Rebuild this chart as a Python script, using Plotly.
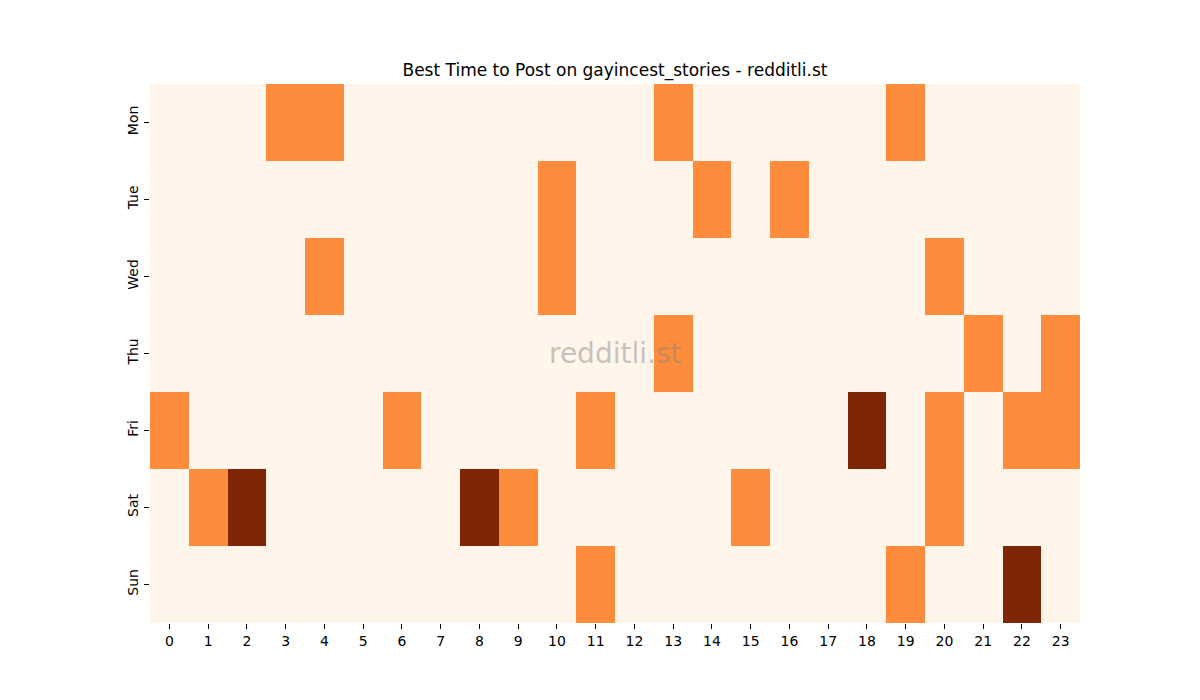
import plotly.graph_objects as go

hours = list(range(24))
days = ["Mon", "Tue", "Wed", "Thu", "Fri", "Sat", "Sun"]

# 0 = quiet, 1 = good, 2 = best
mon = [0, 0, 0, 1, 1, 0, 0, 0, 0, 0, 0, 0, 0, 1, 0, 0, 0, 0, 0, 1, 0, 0, 0, 0]
tue = [0, 0, 0, 0, 0, 0, 0, 0, 0, 0, 1, 0, 0, 0, 1, 0, 1, 0, 0, 0, 0, 0, 0, 0]
wed = [0, 0, 0, 0, 1, 0, 0, 0, 0, 0, 1, 0, 0, 0, 0, 0, 0, 0, 0, 0, 1, 0, 0, 0]
thu = [0, 0, 0, 0, 0, 0, 0, 0, 0, 0, 0, 0, 0, 1, 0, 0, 0, 0, 0, 0, 0, 1, 0, 1]
fri = [1, 0, 0, 0, 0, 0, 1, 0, 0, 0, 0, 1, 0, 0, 0, 0, 0, 0, 2, 0, 1, 0, 1, 1]
sat = [0, 1, 2, 0, 0, 0, 0, 0, 2, 1, 0, 0, 0, 0, 0, 1, 0, 0, 0, 0, 1, 0, 0, 0]
sun = [0, 0, 0, 0, 0, 0, 0, 0, 0, 0, 0, 1, 0, 0, 0, 0, 0, 0, 0, 1, 0, 0, 2, 0]

z = [mon, tue, wed, thu, fri, sat, sun]

oranges = [[0.0, "#fff5eb"], [0.5, "#fd8d3c"], [1.0, "#7f2704"]]

fig = go.Figure(go.Heatmap(
    z=z, x=hours, y=days,
    zmin=0, zmax=2,
    colorscale=oranges,
    showscale=False,
    xgap=0, ygap=0,
))

fig.update_layout(
    width=1200, height=700,
    margin=dict(l=142, r=128, t=76, b=85),
    paper_bgcolor="white",
    plot_bgcolor="white",
    font=dict(family="DejaVu Sans", size=14, color="black"),
    title=dict(text="Best Time to Post on gayincest_stories - redditli.st",
               x=(142 + 465) / 1200, xanchor="center", y=1 - 62 / 700, yanchor="middle",
               font=dict(size=17)),
    annotations=[dict(text="redditli.st", x=0.5, y=0.5, xref="paper", yref="paper",
                      showarrow=False, font=dict(size=28, color="rgba(128,128,128,0.45)"))],
)
fig.update_xaxes(tickmode="array", tickvals=hours, ticktext=[str(h) for h in hours],
                 ticks="outside", ticklen=5, tickcolor="black", showgrid=False,
                 zeroline=False, showline=False, range=[-0.5, 23.5])
fig.update_yaxes(autorange="reversed", ticks="outside", ticklen=5, tickcolor="black",
                 tickangle=-90, showgrid=False, zeroline=False, showline=False)

fig.write_html("out.html")
